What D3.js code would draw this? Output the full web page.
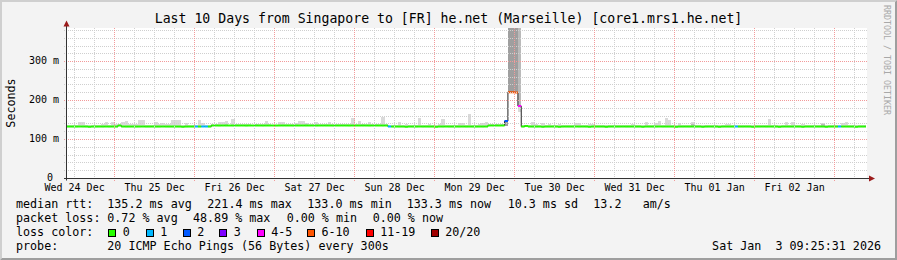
<!DOCTYPE html>
<html lang="en">
<head>
<meta charset="UTF-8">
<title>Smokeping - core1.mrs1.he.net</title>
<script src="https://cdn.jsdelivr.net/npm/d3@7"></script>
<style>
  body { margin: 0; background: #f3f3f3; }
  svg { display: block; }
  text { font-family: "DejaVu Sans Mono", monospace; fill: #000; white-space: pre; }
</style>
</head>
<body>
<svg id="chart" width="897" height="260"></svg>
<script>
// ---- data ----
const title = "Last 10 Days from Singapore to [FR] he.net (Marseille) [core1.mrs1.he.net]";
const startTime = Date.UTC(2025, 11, 24, 9, 25, 31);
const endTime = Date.UTC(2026, 0, 3, 9, 25, 31);
const firstSample = Date.UTC(2025, 11, 24, 10, 0, 0);   // hourly rows
const sampleStep = 3600 * 1000;

const dayLabels = ["Wed 24 Dec", "Thu 25 Dec", "Fri 26 Dec", "Sat 27 Dec", "Sun 28 Dec",
                   "Mon 29 Dec", "Tue 30 Dec", "Wed 31 Dec", "Thu 01 Jan", "Fri 02 Jan"];
const yTicks = [0, 100, 200, 300];
const yTickLabels = ["0 ", "100 m", "200 m", "300 m"];

// median rtt per hour (ms)
const medianRtt = [
  133.3,133.2,133.2,133.4,133.3,133.2,133.1,133.2,133.2,133.3,133.2,133.4,133.2,133.3,133.2,136.0,133.3,133.2,133.2,133.3,133.2,133.3,133.4,133.2,
  133.2,133.3,133.2,133.2,133.4,133.3,133.2,133.2,133.3,133.2,133.1,133.2,133.3,133.2,133.4,133.2,133.5,133.4,133.2,136.0,136.1,135.9,136.0,136.2,
  136.0,135.9,136.1,136.0,136.0,135.8,136.1,136.0,136.2,136.0,135.9,136.0,136.1,136.0,135.9,136.0,136.1,136.0,136.0,135.9,136.1,136.0,136.0,136.2,
  136.0,136.1,135.9,136.0,136.0,136.1,136.0,135.9,136.0,136.0,136.1,136.0,135.9,136.1,136.0,136.0,136.2,136.0,135.9,136.0,136.1,136.0,135.9,136.0,
  133.4,133.2,133.3,133.2,133.2,133.1,133.3,133.2,133.2,133.4,133.2,133.3,133.2,133.2,133.1,133.3,133.2,133.4,133.2,133.2,133.3,133.2,133.3,133.2,
  133.3,133.2,133.2,133.3,133.2,133.4,136.0,136.1,136.2,136.0,136.3,147.5,221.4,221.2,220.8,186.0,133.2,135.0,133.3,133.2,133.2,133.3,133.1,133.2,
  133.2,133.3,133.2,133.1,133.2,133.3,133.2,133.2,133.4,133.2,133.3,133.2,133.1,133.2,133.3,133.2,133.2,133.0,133.2,133.3,133.2,133.2,133.3,133.2,
  133.2,133.3,133.2,133.2,133.1,133.3,133.2,133.2,133.3,133.4,133.2,133.3,133.3,133.2,133.1,133.2,133.2,133.3,133.2,133.3,133.2,133.2,133.1,133.2,
  133.3,133.2,133.2,133.1,133.2,133.3,133.2,133.2,133.4,133.2,133.2,133.3,133.2,133.1,133.2,133.2,133.3,133.2,133.3,133.2,133.2,133.1,133.2,133.3,
  133.2,133.2,133.3,133.2,133.1,133.3,133.2,133.2,133.3,133.2,133.2,133.1,133.2,133.3,133.2,133.4,133.2,133.3,133.2,133.2,133.1,133.2,133.2,133.3
];

// lost pings per hour (out of 20)
const lostPings = [
  0,0,0,0,0,0,0,0,0,0,0,0,0,0,0,0,0,0,0,0,0,0,0,0,
  0,0,0,0,0,0,0,0,0,0,0,0,0,0,1,0,1,1,0,0,0,0,0,0,
  0,0,0,0,0,0,0,0,0,0,0,0,0,0,0,0,0,0,0,0,0,0,0,0,
  0,0,0,0,0,0,0,0,0,0,0,0,0,0,0,0,0,0,0,0,0,0,0,0,
  1,0,0,0,0,0,0,0,0,0,0,0,0,0,0,0,0,0,0,0,0,0,0,0,
  0,0,0,0,0,0,0,0,0,0,0,2,10,10,9,4,0,0,0,0,0,0,0,0,
  0,0,0,0,0,0,0,0,0,0,0,0,0,0,0,0,0,0,0,0,0,0,0,0,
  0,0,0,0,0,0,0,0,0,0,0,0,0,0,0,0,0,0,0,0,0,0,0,0,
  0,0,0,0,0,0,0,0,1,0,0,0,0,0,0,0,0,0,0,0,0,0,0,0,
  0,0,0,0,0,0,0,0,0,0,0,0,0,0,0,1,0,0,0,0,0,0,0,0
];

// highest ping per hour (ms), top of the smoke
const smokeTop = [
  138,138,138,146,146,137,137,137,138.5,138.5,141,146,138.5,146,141,139.5,146,148,141,141,141,149.5,149.5,138.5,
  138.5,138.5,146,141,143.5,141,141,149.5,149.5,149.5,138.5,143.5,138.5,138.5,138.5,149.5,143.5,138.5,138.5,139.5,139.5,146,146,148,
  138,152,139.5,139.5,139.5,139.5,141,138,141,139.5,139.5,148,141,138,138,146,146,141,139.5,139.5,143.5,148,148,143.5,
  139.5,139.5,146,139.5,139.5,139.5,146,139.5,139.5,139.5,139.5,139.5,139.5,155,139.5,148,139.5,141,146,139.5,139.5,141,158,139.5,
  137,138.5,138.5,146,138.5,141,138.5,138.5,138.5,155,138.5,138.5,141,138.5,138.5,141,152,138.5,138.5,138.5,138.5,143.5,143.5,138.5,
  166,138.5,138.5,141,143.5,146,141,141,141,141,141,150,420,420,420,420,137,138.5,137,146,141,138.5,143.5,138.5,
  141,137,138.5,141,138.5,137,138.5,137,143.5,143.5,138,137,141,141,138.5,137,137,138.5,137,138.5,137,137,138.5,137,
  137,140,137,137,137,146,137,137,143.5,148,138.5,156,150,138,137,143.5,138.5,138.5,137,146,137,138.5,137,137,
  138.5,137,137,138.5,137,141,141,138,137,137,138.5,137,137,138.5,137,137,138.5,138,152,138,137,138.5,137,146,
  137,146,137,137,141,138,137,138.5,137,138,143.5,137,137,138.5,137,137,143.5,146,138,137,138.5,137,137,137
];

// denser ping ranges [row, low ms, high ms] that darken the smoke
const smokeCore = [
  [131, 133.5, 150], [131, 134, 149], [131, 135, 148],
  [132, 221.4, 420], [132, 221.4, 420],
  [133, 221.2, 420], [133, 221.2, 420],
  [134, 220.8, 420], [134, 220.8, 420],
  [135, 170, 420],
  [187, 134, 140], [226, 134, 140]
];

const lossLimits = [0, 1, 2, 3, 5, 10, 19, 20];
const lossLabels = ["0", "1", "2", "3", "4-5", "6-10", "11-19", "20/20"];
const lossColors = ["#26ff00", "#00b8ff", "#0059ff", "#7e00ff", "#ff00ff", "#ff5500", "#ff0000", "#a10000"];

const rttStats = [135.2, 221.4, 133.0, 133.3];
const rttStatNames = ["avg", "max", "min", "now"];
const rttSd = 10.3;
const rttAmps = 13.2;
const lossStats = [0.72, 48.89, 0.00, 0.00];
const probeText = "20 ICMP Echo Pings (56 Bytes) every 300s";
const stampText = "Sat Jan  3 09:25:31 2026";

// ---- drawing ----
const W = 897, H = 260;
const svg = d3.select("#chart");
const px = v => Math.floor(v) + 0.5;

// frame
svg.append("rect").attr("width", W).attr("height", H).attr("fill", "#f3f3f3");
svg.append("path").attr("fill", "#cfcfcf")
  .attr("d", `M0,0H${W}L${W-2},2H2V${H-2}L0,${H}Z`);
svg.append("path").attr("fill", "#9e9e9e")
  .attr("d", `M${W},0V${H}H0L2,${H-2}H${W-2}V2Z`);

const x = d3.scaleUtc().domain([startTime, endTime]).range([66, 866]);
const y = d3.scaleLinear().domain([0, 385]).range([178.5, 28.5]);

svg.append("rect").attr("x", 66).attr("y", 28).attr("width", 801).attr("height", 151).attr("fill", "#fff");

svg.append("clipPath").attr("id", "plotclip")
  .append("rect").attr("x", 66).attr("y", 28).attr("width", 800).attr("height", 150.5);

const rows = medianRtt.map((m, i) => {
  const t = firstSample + i * sampleStep;
  return {
    i, median: m, loss: lostPings[i], top: smokeTop[i],
    x0: x(i === 0 ? startTime : t),
    x1: x(Math.min(t + sampleStep, endTime))
  };
});

const plot = svg.append("g").attr("clip-path", "url(#plotclip)");

// smoke
const smokeFill = "rgba(0,0,0,0.145)";
plot.append("g").selectAll("rect").data(rows).join("rect")
  .attr("x", d => d.x0).attr("width", d => d.x1 - d.x0)
  .attr("y", d => y(d.top)).attr("height", d => Math.max(0, y(d.median) - y(d.top)))
  .attr("fill", smokeFill).attr("shape-rendering", "crispEdges");
plot.append("g").selectAll("rect").data(smokeCore).join("rect")
  .attr("x", d => rows[d[0]].x0).attr("width", d => rows[d[0]].x1 - rows[d[0]].x0)
  .attr("y", d => y(d[2])).attr("height", d => y(d[1]) - y(d[2]))
  .attr("fill", smokeFill).attr("shape-rendering", "crispEdges");

// grid
const grid = svg.append("g").attr("stroke-dasharray", "1,1").attr("shape-rendering", "crispEdges");
const minorY = d3.range(20, 385, 20).filter(v => v % 100 !== 0);
grid.selectAll(".hy").data(minorY).join("line")
  .attr("x1", 64).attr("x2", 868).attr("y1", d => px(y(d))).attr("y2", d => px(y(d)))
  .attr("stroke", "#cfcfcf");
const minorX = d3.utcHour.every(6).range(startTime, endTime).filter(d => d.getUTCHours() !== 0);
grid.selectAll(".hx").data(minorX).join("line")
  .attr("x1", d => px(x(d))).attr("x2", d => px(x(d))).attr("y1", 28).attr("y2", 180)
  .attr("stroke", "#cfcfcf");
grid.selectAll(".my").data(yTicks.slice(1)).join("line")
  .attr("x1", 64).attr("x2", 868).attr("y1", d => px(y(d))).attr("y2", d => px(y(d)))
  .attr("stroke", "#f29a9a");
const majorX = d3.utcDay.range(startTime, endTime);
grid.selectAll(".mx").data(majorX).join("line")
  .attr("x1", d => px(x(d))).attr("x2", d => px(x(d))).attr("y1", 28).attr("y2", 181)
  .attr("stroke", "#f29a9a");

// median step line and loss coloured segments
const stepPts = [];
rows.forEach(r => { stepPts.push([r.x0, y(r.median)], [r.x1, y(r.median)]); });
plot.append("path").attr("d", d3.line()(stepPts))
  .attr("fill", "none").attr("stroke", "#202020").attr("stroke-width", 1);

const lossIndex = n => lossLimits.findIndex(l => n <= l);
plot.append("g").selectAll("path").data(rows).join("path")
  .attr("d", d => d3.line()([[d.x0, y(d.median)], [d.x1, y(d.median)]]))
  .attr("stroke", d => lossColors[lossIndex(d.loss)])
  .attr("stroke-width", 2).attr("fill", "none");

// axes
const axisColor = "#333";
const arrowColor = "#9b1b1b";
svg.append("line").attr("x1", 64).attr("x2", 870).attr("y1", 178.5).attr("y2", 178.5)
  .attr("stroke", axisColor);
svg.append("line").attr("x1", 66.5).attr("x2", 66.5).attr("y1", 180.5).attr("y2", 26)
  .attr("stroke", axisColor);
svg.append("path").attr("d", "M869,175.5L875,178.5L869,181.5Z").attr("fill", arrowColor);
svg.append("path").attr("d", "M63.5,26.5L66.5,20.5L69.5,26.5Z").attr("fill", arrowColor);

// tick labels
svg.append("g").selectAll("text").data(dayLabels).join("text")
  .attr("x", (d, i) => x(Date.UTC(2025, 11, 24 + i, 12)))
  .attr("y", 190.5).attr("text-anchor", "middle").attr("font-size", "10px")
  .text(d => d);
svg.append("g").selectAll("text").data(yTicks).join("text")
  .attr("x", 59).attr("y", d => y(d) + 2).attr("text-anchor", "end").attr("font-size", "10px")
  .text((d, i) => yTickLabels[i]);

// titles
svg.append("text").attr("x", 448.5).attr("y", 23).attr("text-anchor", "middle")
  .attr("font-size", "13.2px").text(title);
svg.append("text").attr("transform", "translate(15,103) rotate(-90)").attr("text-anchor", "middle")
  .attr("font-size", "11.7px").text("Seconds");
svg.append("text").attr("transform", "translate(883.5,5) rotate(90)")
  .attr("font-size", "8.3px").style("fill", "#a8a8a8")
  .text("RRDTOOL / TOBI OETIKER");

// legend
const leg = svg.append("g").attr("font-size", "11.7px");
const put = (tx, lx, ly, anchor) => leg.append("text").attr("x", lx).attr("y", ly)
  .attr("text-anchor", anchor || "start").text(tx);

put("median rtt:", 16, 208);
const rttX = [107.3, 207.3, 307.3, 406.7];
rttStats.forEach((v, i) => put(`${d3.format(".1f")(v)} ms ${rttStatNames[i]}`, rttX[i], 208));
put(`${d3.format(".1f")(rttSd)} ms sd`, 507.7, 208);
put(d3.format(".1f")(rttAmps), 593.3, 208);
put("am/s", 642.7, 208);

put("packet loss:", 16, 222);
const lossX = [107.3, 193, 286.7, 372.7];
lossStats.forEach((v, i) => put(`${d3.format(".2f")(v)} % ${rttStatNames[i]}`, lossX[i], 222));

put("loss color:", 16, 236);
const swatchX = [108.3, 145.7, 182.7, 219.3, 256.7, 307, 365.7, 430.7];
lossLabels.forEach((lab, i) => {
  leg.append("rect").attr("x", Math.round(swatchX[i]) + 0.5).attr("y", 229.5)
    .attr("width", 7).attr("height", 7).attr("fill", lossColors[i]).attr("stroke", "#000");
  put(lab, swatchX[i] + 14.5, 236);
});

put("probe:", 16, 250);
put(probeText, 107.3, 250);
put(stampText, 881, 250, "end");
</script>
</body>
</html>
